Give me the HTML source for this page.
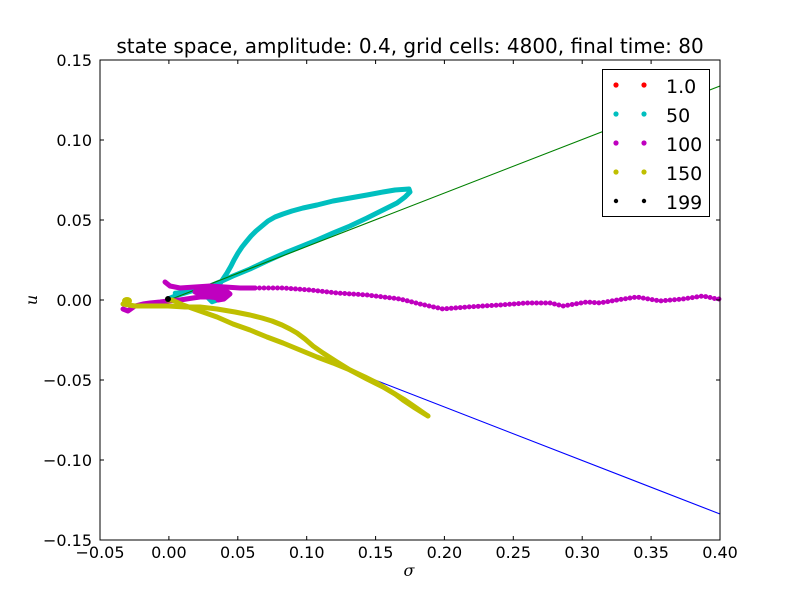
<!DOCTYPE html>
<html>
<head>
<meta charset="utf-8">
<style>
html,body{margin:0;padding:0;background:#fff;}
svg{display:block;}
text{font-family:"DejaVu Sans","Liberation Sans",sans-serif;fill:#000;}
.tk{font-size:16px;}
</style>
</head>
<body>
<svg width="800" height="600" viewBox="0 0 800 600" xmlns="http://www.w3.org/2000/svg">
<rect x="0" y="0" width="800" height="600" fill="#fff"/>

<!-- data -->
<g fill="none" stroke-linecap="round" stroke-linejoin="round">
  <!-- cyan (50) -->
  <polyline stroke="#00bfbf" stroke-width="5" points="168,299 175,296 185,293 198,289 210,286 222,281 233,276 250,269 267,261 285,253 300,247 317,240 333,233 350,226 367,218 383,210 397,203 405,197 410,192 409,189 395,190 383,192 367,195 350,198 333,201 317,205 303,208 292,211 283,214 275,217 268,221 262,226 256,231 251,236 246,242 242,247 238,253 234,260 231,266 227,273 223,279 219,285 216,290 213,296 212,300"/>
  <polyline stroke="#00bfbf" stroke-width="4.5" points="175,293 185,292 198,290 205,295 212,302 218,300"/>
  <!-- green line -->
  <line x1="169" y1="300" x2="720" y2="86" stroke="#008000" stroke-width="1.1"/>
  <!-- magenta (100) -->
  <polyline stroke="#bf00bf" stroke-width="5" points="123,309 128,311 135,306 143,304 150,303 160,302 168,301 180,300 193,298 200,297 210,297 220,298 225,296 222,293 212,293 200,294 195,292 205,289 215,288 225,290 230,294 224,299 218,300"/>
  <polyline stroke="#bf00bf" stroke-width="5" points="165,282 170,286 180,288 195,287 210,286 225,287 240,288 255,288"/>
  <polyline stroke="#bf00bf" stroke-width="5" stroke-dasharray="0 4.5" points="255,288 283,288 310,290 337,293 367,295 400,299 420,304 443,309 467,307 500,305 527,303 550,303 563,306 587,302 600,303 617,300 637,297 660,301 683,299 703,296 717,299 720,299"/>
  <!-- blue line -->
  <line x1="169" y1="300" x2="720" y2="514" stroke="#0000ff" stroke-width="1.1"/>
  <!-- yellow (150) -->
  <ellipse cx="127" cy="301" rx="5" ry="4" fill="#bfbf00"/>
  <polyline stroke="#bfbf00" stroke-width="5" points="123,304 135,306 150,306 168,306 185,307 200,307 217,309 235,312 250,315 262,318 272,321 282,325 290,329 297,333 305,339 313,346 323,353 337,362 350,370 367,379 383,387 395,394 403,400 415,408 423,413 428,416"/>
  <polyline stroke="#bfbf00" stroke-width="5" points="168,300 172,300 183,305 200,311 217,317 233,324 250,330 267,337 283,343 300,350 317,357 333,363 350,370 365,377 377,383 390,391 405,400 418,409 428,416"/>
  <!-- black (199) -->
  <circle cx="168" cy="299" r="3" fill="#000" stroke="none"/>
</g>

<!-- axes frame -->
<rect x="100" y="60" width="620" height="480" fill="none" stroke="#000" stroke-width="1"/>

<!-- ticks -->
<g stroke="#000" stroke-width="1">
  <line x1="168.9" y1="540" x2="168.9" y2="536"/><line x1="168.9" y1="60" x2="168.9" y2="64"/>
  <line x1="237.8" y1="540" x2="237.8" y2="536"/><line x1="237.8" y1="60" x2="237.8" y2="64"/>
  <line x1="306.7" y1="540" x2="306.7" y2="536"/><line x1="306.7" y1="60" x2="306.7" y2="64"/>
  <line x1="375.6" y1="540" x2="375.6" y2="536"/><line x1="375.6" y1="60" x2="375.6" y2="64"/>
  <line x1="444.4" y1="540" x2="444.4" y2="536"/><line x1="444.4" y1="60" x2="444.4" y2="64"/>
  <line x1="513.3" y1="540" x2="513.3" y2="536"/><line x1="513.3" y1="60" x2="513.3" y2="64"/>
  <line x1="582.2" y1="540" x2="582.2" y2="536"/><line x1="582.2" y1="60" x2="582.2" y2="64"/>
  <line x1="651.1" y1="540" x2="651.1" y2="536"/><line x1="651.1" y1="60" x2="651.1" y2="64"/>
  <line x1="100" y1="140" x2="104" y2="140"/><line x1="720" y1="140" x2="716" y2="140"/>
  <line x1="100" y1="220" x2="104" y2="220"/><line x1="720" y1="220" x2="716" y2="220"/>
  <line x1="100" y1="300" x2="104" y2="300"/><line x1="720" y1="300" x2="716" y2="300"/>
  <line x1="100" y1="380" x2="104" y2="380"/><line x1="720" y1="380" x2="716" y2="380"/>
  <line x1="100" y1="460" x2="104" y2="460"/><line x1="720" y1="460" x2="716" y2="460"/>
</g>

<!-- y tick labels -->
<g class="tk" text-anchor="end">
  <text x="92" y="66">0.15</text>
  <text x="92" y="146">0.10</text>
  <text x="92" y="226">0.05</text>
  <text x="92" y="306">0.00</text>
  <text x="92" y="386">−0.05</text>
  <text x="92" y="466">−0.10</text>
  <text x="92" y="546">−0.15</text>
</g>
<!-- x tick labels -->
<g class="tk" text-anchor="middle">
  <text x="100" y="558">−0.05</text>
  <text x="168.9" y="558">0.00</text>
  <text x="237.8" y="558">0.05</text>
  <text x="306.7" y="558">0.10</text>
  <text x="375.6" y="558">0.15</text>
  <text x="444.4" y="558">0.20</text>
  <text x="513.3" y="558">0.25</text>
  <text x="582.2" y="558">0.30</text>
  <text x="651.1" y="558">0.35</text>
  <text x="720" y="558">0.40</text>
</g>

<!-- axis labels -->
<text x="409" y="576" text-anchor="middle" style="font-family:'DejaVu Serif','Liberation Serif',serif;font-style:italic;font-size:16px;">σ</text>
<text x="0" y="0" text-anchor="middle" transform="translate(37,300) rotate(-90)" style="font-family:'DejaVu Serif','Liberation Serif',serif;font-style:italic;font-size:16px;">u</text>

<!-- title -->
<text x="410" y="53" text-anchor="middle" style="font-size:20px;">state space, amplitude: 0.4, grid cells: 4800, final time: 80</text>

<!-- legend -->
<rect x="602.5" y="69.5" width="107" height="147" fill="#fff" stroke="#000" stroke-width="1"/>
<g>
  <circle cx="616" cy="85" r="2.6" fill="#ff0000"/><circle cx="644" cy="85" r="2.6" fill="#ff0000"/>
  <circle cx="616" cy="114" r="2.6" fill="#00bfbf"/><circle cx="644" cy="114" r="2.6" fill="#00bfbf"/>
  <circle cx="616" cy="143" r="2.6" fill="#bf00bf"/><circle cx="644" cy="143" r="2.6" fill="#bf00bf"/>
  <circle cx="616" cy="172" r="2.6" fill="#bfbf00"/><circle cx="644" cy="172" r="2.6" fill="#bfbf00"/>
  <circle cx="616" cy="201" r="2.2" fill="#000"/><circle cx="644" cy="201" r="2.2" fill="#000"/>
</g>
<g style="font-size:19px;">
  <text x="666" y="93">1.0</text>
  <text x="666" y="122">50</text>
  <text x="666" y="151">100</text>
  <text x="666" y="180">150</text>
  <text x="666" y="209">199</text>
</g>
</svg>
</body>
</html>
